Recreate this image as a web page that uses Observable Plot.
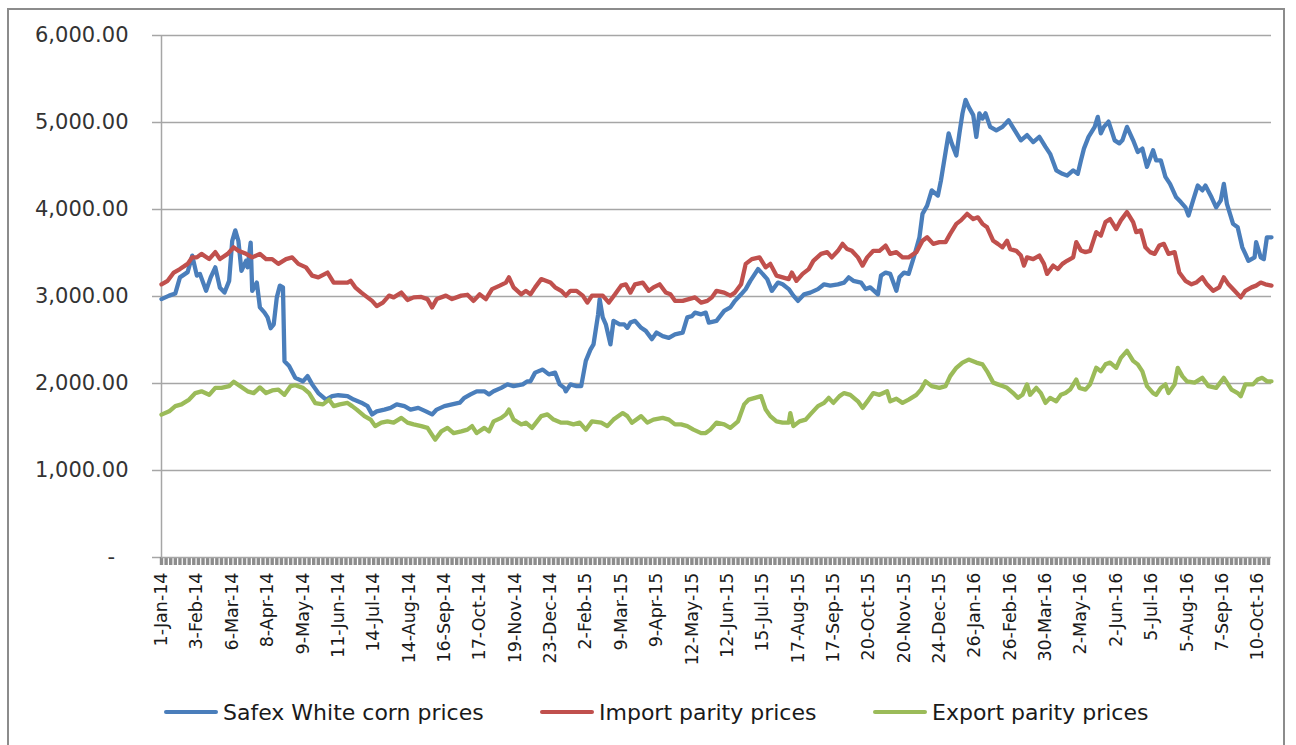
<!DOCTYPE html>
<html><head><meta charset="utf-8">
<script src="https://cdn.jsdelivr.net/npm/d3@7"></script>
<script src="https://cdn.jsdelivr.net/npm/@observablehq/plot@0.6"></script>
<style>
body{margin:0;background:#fff;}
#wrap{position:relative;width:1296px;height:745px;overflow:hidden;background:#fff;}
#frame{position:absolute;left:7px;top:8px;width:1278px;height:800px;border:2px solid #8c8c8c;box-sizing:border-box;}
#chart{position:absolute;left:0;top:0;}
#legend{position:absolute;top:697px;left:0;width:1296px;height:30px;font-family:"DejaVu Sans";font-size:22px;color:#1a1a1a;}
.item{position:absolute;top:0;display:flex;align-items:center;height:30px;white-space:nowrap;}
.sw{width:54px;height:4px;margin-right:5px;border-radius:2px;}
</style></head>
<body>
<div id="wrap">
<div id="frame"></div>
<div id="chart"></div>
<div id="legend"></div>
</div>
<script>
const dateLabels = ["1-Jan-14","3-Feb-14","6-Mar-14","8-Apr-14","9-May-14","11-Jun-14","14-Jul-14","14-Aug-14","16-Sep-14","17-Oct-14","19-Nov-14","23-Dec-14","2-Feb-15","9-Mar-15","9-Apr-15","12-May-15","12-Jun-15","15-Jul-15","17-Aug-15","17-Sep-15","20-Oct-15","20-Nov-15","24-Dec-15","26-Jan-16","26-Feb-16","30-Mar-16","2-May-16","2-Jun-16","5-Jul-16","5-Aug-16","7-Sep-16","10-Oct-16"];
const daysPerLabel = 23;
const lastDay = 722;
const yTicks = [0,1000,2000,3000,4000,5000,6000];
const seriesNames = ["Safex White corn prices","Import parity prices","Export parity prices"];
const seriesColors = ["#4a7ebb","#c0504d","#9bbb59"];

// [trading day index, price]
const safex = [[0,2970],[5,3010],[9,3035],[12,3220],[17,3280],[20,3470],[23,3240],[25,3260],[29,3065],[32,3220],[35,3335],[38,3100],[41,3045],[44,3180],[46,3640],[48,3760],[50,3640],[52,3295],[55,3410],[56,3335],[58,3620],[59,3065],[62,3160],[64,2875],[67,2815],[69,2760],[71,2635],[73,2680],[75,2990],[77,3125],[79,3105],[80,2255],[83,2200],[87,2065],[92,2025],[95,2085],[98,1990],[102,1890],[107,1815],[111,1855],[115,1865],
[121,1855],[125,1815],[130,1780],[134,1740],[137,1645],[140,1680],[145,1700],[149,1720],[153,1760],[158,1740],[162,1700],[167,1720],[172,1680],[176,1645],[179,1700],[184,1740],[189,1760],[194,1780],[197,1835],[201,1875],[205,1910],[210,1910],[213,1875],[216,1910],[221,1950],[225,1990],[229,1970],[235,1990],
[238,2025],[240,2025],[243,2125],[248,2160],[252,2105],[256,2125],[259,1990],[262,1950],[263,1910],[266,1990],[270,1970],[273,1970],[276,2260],[279,2390],[281,2450],[284,2795],[285,2970],[287,2760],[289,2680],[292,2450],[294,2720],[298,2680],[301,2680],[303,2640],[305,2700],[308,2720],[312,2640],[315,2605],[319,2510],[322,2585],[326,2545],[330,2525],[334,2565],[339,2585],[342,2760],[345,2775],[347,2815],[351,2795],[354,2815],[356,2700],
[361,2720],[366,2835],[370,2875],[373,2950],[377,3025],[380,3085],[383,3180],[388,3315],[391,3260],[394,3200],[397,3065],[401,3160],[404,3140],[408,3085],[411,3010],[414,2950],[418,3025],[422,3045],[427,3085],[431,3140],[435,3125],[440,3140],[444,3160],[447,3220],[450,3180],[455,3160],[458,3085],[461,3105],[466,3025],[468,3240],[471,3275],[474,3260],[478,3065],[480,3220],
[483,3275],[486,3260],[490,3490],[493,3680],[495,3950],[498,4045],[501,4220],[505,4160],[507,4335],[510,4660],[512,4875],[514,4760],[517,4620],[519,4875],[521,5105],[523,5260],[525,5180],[528,5085],[530,4835],[532,5105],[534,5045],[536,5105],[539,4950],[543,4910],[547,4950],[551,5025],[555,4910],[559,4795],[563,4855],[567,4775],[571,4835],[575,4720],[578,4640],[582,4450],[586,4410],[589,4390],[593,4450],[596,4410],
[598,4560],[600,4700],[603,4835],[607,4950],[609,5065],[611,4875],[613,4950],[616,5010],[620,4795],[623,4760],[625,4795],[628,4950],[632,4795],[635,4660],[638,4700],[641,4490],[645,4680],[647,4565],[650,4565],[653,4375],[656,4295],[660,4140],[663,4085],[666,4025],[668,3930],[671,4105],[674,4275],[677,4220],[679,4275],[683,4140],[686,4025],[689,4105],[691,4295],[693,4065],[697,3835],[700,3795],[703,3565],[705,3490],[707,3410],[711,3450],[712,3625],[715,3450],[717,3430],[719,3680],[722,3680]];

const importParity = [[0,3140],[4,3180],[8,3275],[12,3315],[17,3375],[20,3450],[23,3450],[26,3490],[31,3430],[35,3510],[38,3430],[43,3490],[47,3565],[50,3525],[55,3490],[59,3450],[64,3490],[68,3430],[72,3430],[76,3375],[81,3430],[85,3450],[89,3375],[94,3335],[98,3240],[102,3220],[108,3275],[112,3160],[115,3160],
[121,3160],[123,3180],[126,3105],[130,3045],[134,2990],[137,2950],[140,2890],[144,2930],[148,3010],[151,2990],[156,3045],[160,2960],[164,2990],[169,2995],[173,2970],[176,2875],[179,2970],[185,3010],[189,2970],[195,3010],[199,3020],[203,2950],[207,3025],[211,2970],[215,3085],[220,3125],[224,3160],[226,3220],[229,3105],[234,3025],[237,3065],
[240,3025],[243,3105],[247,3200],[250,3180],[253,3160],[256,3105],[260,3065],[263,3010],[266,3065],[270,3065],[274,3010],[277,2930],[280,3010],[284,3010],[287,3010],[291,2930],[295,3025],[299,3125],[302,3140],[305,3045],[308,3140],[313,3160],[317,3065],[320,3105],[324,3140],[328,3045],[331,3025],[334,2950],[339,2950],[343,2970],[347,2990],[351,2930],[355,2950],[358,2990],
[361,3065],[366,3045],[370,3010],[373,3045],[377,3140],[380,3375],[384,3430],[389,3450],[393,3335],[396,3375],[400,3240],[404,3220],[408,3200],[410,3275],[413,3180],[417,3260],[421,3315],[424,3410],[429,3490],[433,3510],[436,3450],[440,3525],[443,3605],[446,3545],[449,3525],[453,3450],[456,3355],[459,3450],[463,3525],[467,3525],[471,3585],[474,3490],[478,3510],
[482,3450],[486,3450],[491,3510],[495,3640],[498,3680],[502,3605],[506,3625],[510,3625],[513,3720],[517,3835],[520,3875],[524,3950],[528,3890],[531,3910],[534,3835],[537,3795],[541,3640],[544,3605],[547,3565],[550,3640],[552,3545],[556,3525],[559,3470],[561,3355],[563,3450],[567,3430],[571,3470],[574,3375],[576,3260],[580,3355],[583,3315],[586,3375],[589,3410],[593,3450],[595,3625],[598,3530],
[601,3510],[604,3525],[608,3740],[611,3700],[614,3855],[617,3890],[621,3775],[624,3875],[628,3970],[632,3855],[634,3740],[637,3760],[640,3565],[643,3510],[646,3490],[649,3585],[652,3605],[655,3490],[659,3510],[662,3275],[666,3180],[670,3140],[673,3160],[677,3220],[680,3140],[684,3065],[688,3105],[691,3220],[694,3140],[698,3065],[702,2990],[705,3065],[709,3105],[712,3125],[715,3160],[718,3140],[722,3125]];

const exportParity = [[0,1642],[5,1680],[9,1740],[13,1760],[18,1815],[22,1890],[26,1910],[31,1870],[35,1950],[39,1950],[44,1970],[47,2020],[51,1970],[56,1910],[60,1890],[64,1955],[68,1890],[72,1920],[76,1930],[80,1870],[84,1970],[87,1980],[92,1950],[96,1890],[100,1775],[105,1760],[109,1815],[112,1740],[116,1760],
[121,1777],[124,1740],[127,1700],[132,1625],[136,1585],[139,1510],[143,1550],[147,1565],[151,1550],[156,1605],[160,1550],[164,1530],[169,1510],[173,1490],[178,1355],[182,1450],[186,1490],[190,1430],[195,1450],[199,1470],[202,1510],[205,1430],[210,1490],[213,1450],[216,1565],[221,1605],[224,1645],[226,1700],[229,1585],[234,1530],[237,1550],
[241,1490],[247,1625],[251,1645],[255,1585],[260,1550],[264,1550],[268,1530],[272,1550],[276,1470],[280,1565],[286,1550],[290,1510],[294,1585],[300,1660],[303,1625],[306,1550],[312,1625],[316,1550],[320,1585],[326,1605],[330,1585],[334,1530],[338,1530],[342,1510],[346,1470],[351,1430],[354,1430],[357,1470],
[361,1550],[366,1530],[370,1490],[375,1565],[379,1760],[382,1815],[386,1835],[390,1855],[393,1700],[396,1625],[400,1565],[404,1550],[408,1550],[409,1660],[411,1510],[415,1565],[419,1585],[422,1645],[427,1740],[431,1777],[434,1835],[437,1777],[441,1855],[444,1890],[448,1870],[453,1795],[456,1720],[460,1815],[463,1890],[467,1870],[472,1910],[474,1795],[478,1825],
[482,1777],[486,1815],[491,1870],[494,1930],[497,2025],[501,1970],[506,1950],[510,1970],[513,2085],[517,2180],[521,2240],[525,2275],[530,2240],[534,2220],[537,2140],[541,2010],[544,1990],[547,1970],[550,1950],[554,1890],[557,1835],[560,1870],[563,1990],[565,1870],[569,1950],[572,1890],[575,1777],[578,1835],[582,1795],[585,1870],[588,1890],[591,1930],[595,2045],[597,1950],
[601,1930],[604,1990],[608,2180],[611,2140],[614,2220],[617,2240],[621,2180],[624,2295],[628,2375],[632,2260],[635,2220],[638,2140],[641,1970],[645,1890],[647,1870],[650,1950],[653,1990],[655,1890],[659,1990],[661,2180],[664,2085],[667,2025],[672,2010],[677,2065],[681,1970],[686,1950],[691,2065],[696,1930],[700,1890],[702,1855],[705,1990],[710,1990],[713,2045],[716,2065],[719,2025],[722,2025]];

const allSeries = [safex, importParity, exportParity];
const labelDays = dateLabels.map((_, i) => i * daysPerLabel);
const minorTicks = d3.range(0, lastDay + 1, 3);
const fmt = d3.format(",.2f");

const lineMarks = allSeries.map((s, k) => Plot.line(s, {
  x: d => d[0], y: d => d[1], stroke: seriesColors[k], strokeWidth: 4.3,
  strokeLinejoin: "round", strokeLinecap: "round"
}));

const chart = Plot.plot({
  width: 1296, height: 680,
  marginLeft: 161, marginRight: 25, marginTop: 35, marginBottom: 123,
  style: {fontFamily: "DejaVu Sans", background: "transparent", overflow: "visible", color: "#262626"},
  x: {domain: [0, lastDay]},
  y: {domain: [0, 6000]},
  marks: [
    Plot.gridY(yTicks.filter(d => d > 0), {stroke: "#a6a6a6", strokeOpacity: 1, strokeWidth: 1.5}),
    Plot.axisY(yTicks, {tickSize: 9, tickPadding: 24, fontSize: 21, stroke: "#a6a6a6", strokeWidth: 1.5, fill: "#333",
      tickFormat: v => v === 0 ? "-\u00a0\u00a0" : fmt(v), label: null}),
    Plot.ruleX([0], {stroke: "#a6a6a6", strokeWidth: 1.5}),
    Plot.axisX(minorTicks, {tickSize: 8, tickFormat: () => "", stroke: "#8c8c8c", strokeWidth: 3.4, label: null}),
    Plot.axisX(labelDays, {tickSize: 0, tickPadding: 15, tickRotate: -90, fontSize: 17.5, fill: "#1a1a1a",
      tickFormat: d => dateLabels[Math.round(d / daysPerLabel)], label: null}),
    Plot.ruleY([0], {stroke: "#a6a6a6", strokeWidth: 1.5}),
    ...lineMarks
  ]
});
document.getElementById("chart").appendChild(chart);

const legendX = [164, 540, 873];
const legend = document.getElementById("legend");
seriesNames.forEach((name, k) => {
  const it = document.createElement("div");
  it.className = "item";
  it.style.left = legendX[k] + "px";
  it.innerHTML = `<div class="sw" style="background:${seriesColors[k]}"></div><span>${name}</span>`;
  legend.appendChild(it);
});
</script>
</body></html>
